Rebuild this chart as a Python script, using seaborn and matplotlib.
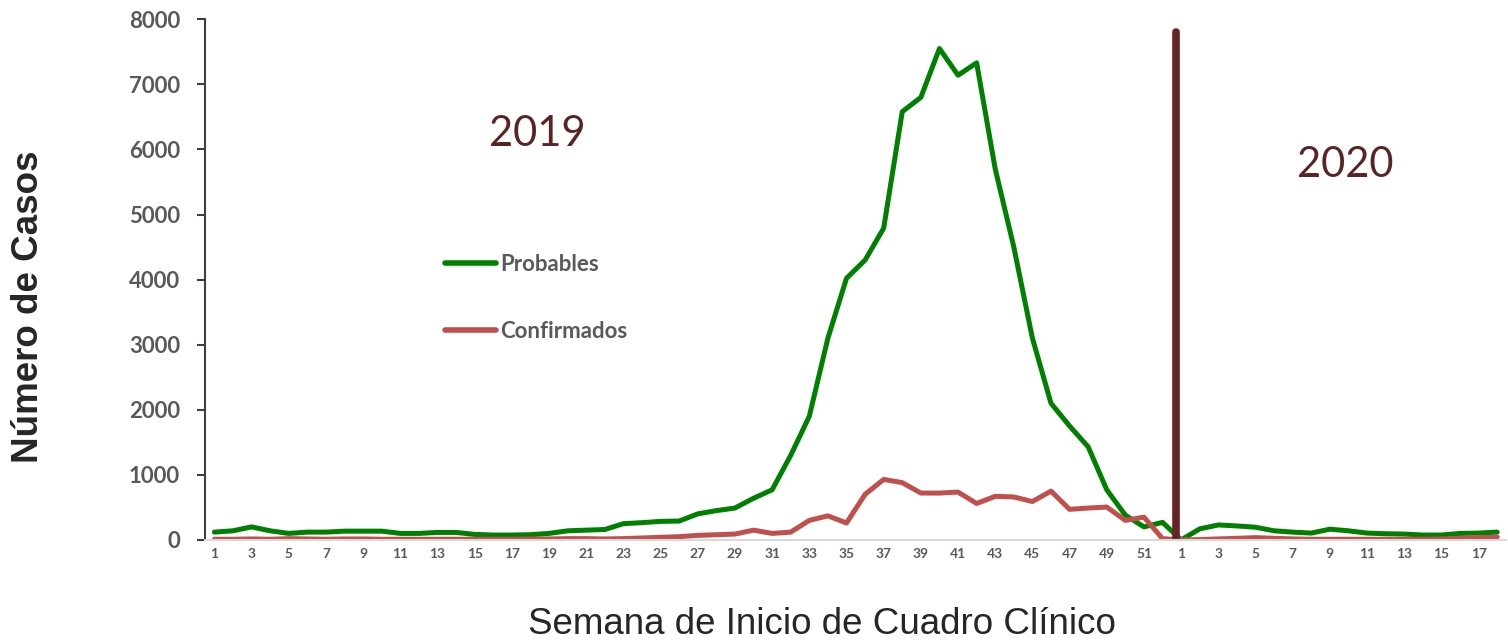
import numpy as np
import pandas as pd
import matplotlib
matplotlib.use("Agg")
import matplotlib.pyplot as plt
import seaborn as sns

# ----- Data -----
weeks_2019 = [str(w) for w in range(1, 53)]
weeks_2020 = [str(w) for w in range(1, 19)]
week_labels = weeks_2019 + weeks_2020

probables = [
    120, 140, 200, 140, 100, 120, 120, 135, 135, 135,
    100, 100, 115, 115, 85, 75, 75, 80, 100, 140,
    150, 160, 250, 265, 285, 290, 400, 450, 490, 640,
    770, 1300, 1900, 3100, 4020, 4300, 4790, 6580, 6800, 7550,
    7140, 7330, 5700, 4500, 3100, 2100, 1750, 1430, 770, 380,
    200, 270,
    0, 170, 230, 215, 195, 140, 120, 105, 165, 140,
    105, 95, 90, 75, 75, 100, 105, 120,
]
confirmados = [
    10, 10, 15, 10, 20, 15, 10, 15, 15, 10,
    10, 10, 10, 10, 10, 10, 10, 15, 15, 20,
    20, 15, 20, 30, 40, 50, 70, 80, 90, 150,
    100, 120, 300, 370, 260, 700, 930, 880, 720, 720,
    735, 560, 670, 660, 590, 750, 470, 490, 505, 300,
    350, 20,
    0, 5, 15, 25, 35, 25, 15, 10, 10, 10,
    10, 10, 10, 10, 15, 25, 35, 45,
]

df = pd.DataFrame({
    "idx": np.arange(len(week_labels)),
    "Probables": probables,
    "Confirmados": confirmados,
})
long = df.melt(id_vars="idx", var_name="serie", value_name="casos")

# ----- Plot -----
sns.set_style("white")
plt.rcParams["font.family"] = ["Lato", "DejaVu Sans"]

fig = plt.figure(figsize=(15.08, 6.42), dpi=100)
ax = fig.add_axes([0.136, 0.159, 0.863, 0.811])

sns.lineplot(data=long, x="idx", y="casos", hue="serie",
             palette={"Probables": "#008000", "Confirmados": "#c0504d"},
             linewidth=3.6, ax=ax, legend=True)

ax.axvline(51.75, ymin=0, ymax=7800 / 8000, color="#632523", linewidth=5.5)

ax.set_xlim(-0.5, 69.5)
ax.set_ylim(0, 8000)
ax.set_yticks(range(0, 8001, 1000))
ax.set_xticks(range(0, len(week_labels), 2))
ax.set_xticklabels(week_labels[::2])
ax.tick_params(axis="x", length=0, pad=6, labelsize=10, labelcolor="#595959")
ax.tick_params(axis="y", length=6, width=1.5, color="#404040", direction="out",
               pad=12, labelsize=16, labelcolor="#595959", left=True)
for lab in ax.get_xticklabels() + ax.get_yticklabels():
    lab.set_fontweight("bold")

for s in ["top", "right"]:
    ax.spines[s].set_visible(False)
ax.spines["left"].set_color("#404040")
ax.spines["left"].set_linewidth(1.5)
ax.spines["bottom"].set_color("#d9d9d9")
ax.spines["bottom"].set_linewidth(1.5)

ax.set_xlabel("")
ax.set_ylabel("")

leg = ax.legend(loc="upper left", bbox_to_anchor=(0.184, 0.55), frameon=False,
                handlelength=2.3, handletextpad=0.2, labelspacing=2.1,
                borderpad=0, borderaxespad=0, fontsize=16)
for t in leg.get_texts():
    t.set_color("#595959")
    t.set_fontweight("bold")
for h in leg.get_lines():
    h.set_linewidth(4)

ax.text(0.255, 0.78, "2019", transform=ax.transAxes, fontsize=30,
        color="#5a2424", ha="center", va="center")
ax.text(0.876, 0.72, "2020", transform=ax.transAxes, fontsize=30,
        color="#5a2424", ha="center", va="center")

fig.text(0.019, 0.522, "Número de Casos", rotation=90, ha="center", va="center",
         fontsize=26.5, fontweight="bold", family=["Liberation Sans", "DejaVu Sans"])
fig.text(0.545, 0.027, "Semana de Inicio de Cuadro Clínico", ha="center",
         va="center", fontsize=26.5, family=["Liberation Sans", "DejaVu Sans"])

fig.savefig("out.png", dpi=100)
